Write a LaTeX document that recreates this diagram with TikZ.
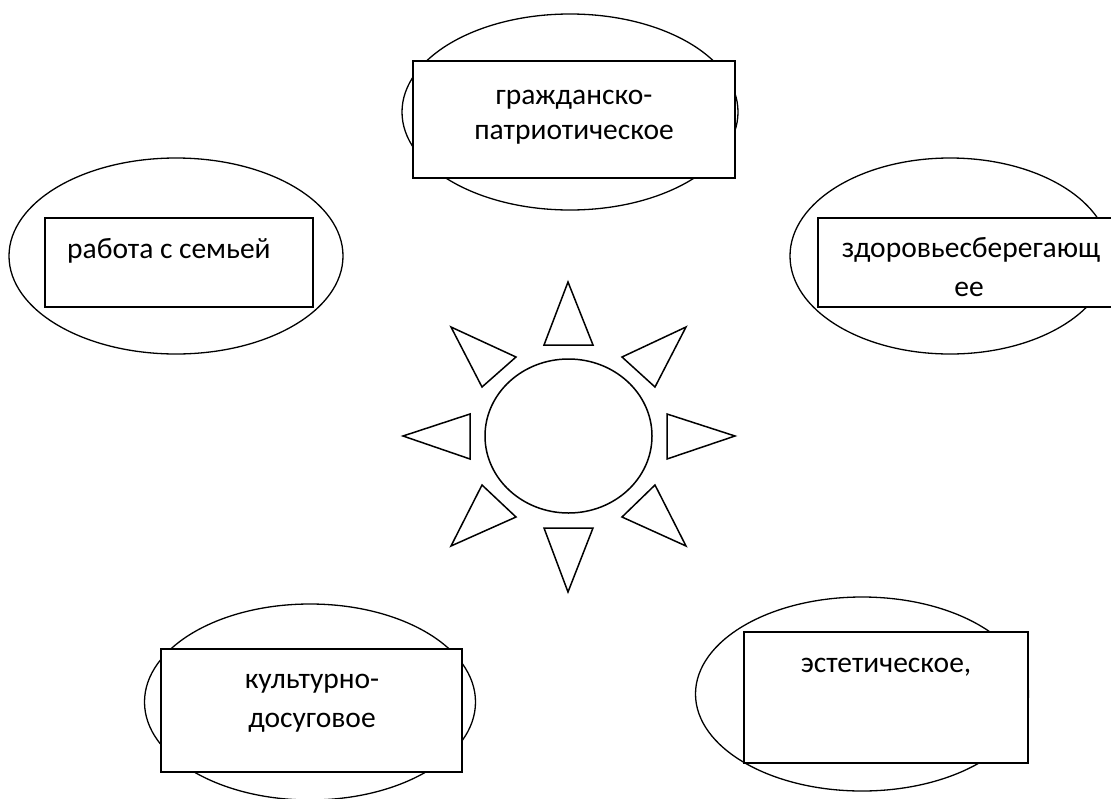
\documentclass[tikz,border=0pt]{standalone}
\usepackage{fontspec}
\setmainfont{Carlito}
\usetikzlibrary{shapes.geometric}
\begin{document}
\begin{tikzpicture}[x=1pt,y=-1pt,
  oval/.style={draw,ellipse,line width=1.3pt,inner sep=0pt},
  card/.style={draw,rectangle,line width=1.8pt,fill=white,inner sep=0pt},
  ray/.style={draw,line width=1.5pt,line join=miter},
  lbl/.style={font=\fontsize{29.5}{36}\selectfont,inner sep=0pt,anchor=base}]
\useasboundingbox (0,0) rectangle (1111,798);
% ellipses
\node[oval,minimum width=336pt,minimum height=196pt] (e1) at (570,112) {};
\node[oval,minimum width=334pt,minimum height=196pt] (e2) at (176,256) {};
\node[oval,minimum width=320pt,minimum height=196pt] (e3) at (950,256) {};
\node[oval,minimum width=331pt,minimum height=196pt] (e4) at (310,702) {};
\node[oval,minimum width=333pt,minimum height=194pt] (e5) at (862,694) {};
% boxes
\node[card,minimum width=322pt,minimum height=117pt] (b1) at (574,119.5) {};
\node[card,minimum width=268pt,minimum height=89pt] (b2) at (179,262.5) {};
\node[card,minimum width=304pt,minimum height=89pt] (b3) at (970,262.5) {};
\node[card,minimum width=301pt,minimum height=123pt] (b4) at (311.5,710.5) {};
\node[card,minimum width=284pt,minimum height=131pt] (b5) at (886,697.5) {};
% texts
\node[lbl] (t1a) at (574,104) {гражданско-};
\node[lbl] (t1b) at (574,139) {патриотическое};
\node[lbl,anchor=base west] (t2) at (67,258) {работа с семьей};
\node[lbl] (t3a) at (971,257) {здоровьесберегающ};
\node[lbl] (t3b) at (969,296) {ее};
\node[lbl] (t4a) at (312,688) {культурно-};
\node[lbl] (t4b) at (312,727) {досуговое};
\node[lbl] (t5) at (886,672) {эстетическое,};
% sun
\node[oval,line width=1.5pt,minimum width=167pt,minimum height=154pt] (sun) at (568.5,436) {};
\draw[ray] (568,282) -- (544,345) -- (593,345) -- cycle;
\draw[ray] (568,592) -- (544,528) -- (593,528) -- cycle;
\draw[ray] (403,436) -- (470,414) -- (470,459) -- cycle;
\draw[ray] (735,436) -- (667,414) -- (667,459) -- cycle;
\draw[ray] (451,327) -- (516,357) -- (482,387) -- cycle;
\draw[ray] (686,327) -- (622,357) -- (655,387) -- cycle;
\draw[ray] (451,546) -- (516,517) -- (482,485) -- cycle;
\draw[ray] (686,546) -- (622,517) -- (655,485) -- cycle;
\end{tikzpicture}
\end{document}
